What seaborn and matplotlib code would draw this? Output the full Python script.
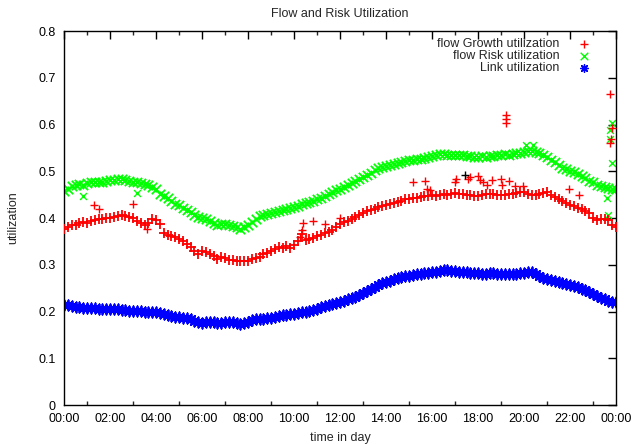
import numpy as np
import pandas as pd
import matplotlib
matplotlib.use("Agg")
import matplotlib.pyplot as plt
import seaborn as sns

# ---- data (hours of day, sampled every 10 minutes) ----
hours = [i / 6 for i in range(145)]

growth = [
    0.376, 0.380, 0.384, 0.385, 0.390, 0.392, 0.390, 0.393, 0.396, 0.398, 0.398, 0.401,
    0.400, 0.402, 0.405, 0.407, 0.404, 0.403, 0.401, 0.394, 0.389, 0.386, 0.390, 0.398,
    0.396, 0.388, 0.368, 0.364, 0.362, 0.359, 0.356, 0.350, 0.344, 0.338, 0.330, 0.324,
    0.330, 0.328, 0.322, 0.318, 0.312, 0.316, 0.314, 0.311, 0.310, 0.308, 0.307, 0.309,
    0.308, 0.312, 0.314, 0.316, 0.322, 0.326, 0.330, 0.333, 0.338, 0.336, 0.340, 0.336,
    0.343, 0.350, 0.365, 0.352, 0.355, 0.358, 0.361, 0.364, 0.367, 0.370, 0.375, 0.380,
    0.388, 0.391, 0.394, 0.398, 0.402, 0.406, 0.410, 0.414, 0.417, 0.420, 0.423, 0.426,
    0.428, 0.430, 0.433, 0.435, 0.437, 0.440, 0.441, 0.442, 0.443, 0.445, 0.446, 0.447,
    0.449, 0.448, 0.449, 0.451, 0.450, 0.452, 0.453, 0.452, 0.451, 0.450, 0.449, 0.448,
    0.448, 0.449, 0.451, 0.452, 0.451, 0.450, 0.449, 0.450, 0.451, 0.452, 0.454, 0.456,
    0.455, 0.452, 0.450, 0.449, 0.451, 0.454, 0.456, 0.450, 0.445, 0.440, 0.436, 0.432,
    0.428, 0.425, 0.422, 0.419, 0.415, 0.410, 0.400, 0.396, 0.398, 0.397, 0.395, 0.385,
    0.381,
]

risk = [
    0.458, 0.462, 0.468, 0.470, 0.472, 0.470, 0.474, 0.476, 0.477, 0.476, 0.478, 0.480,
    0.481, 0.482, 0.484, 0.483, 0.481, 0.480, 0.478, 0.476, 0.474, 0.473, 0.470, 0.466,
    0.462, 0.452, 0.446, 0.442, 0.436, 0.430, 0.427, 0.422, 0.417, 0.412, 0.407, 0.403,
    0.400, 0.397, 0.393, 0.390, 0.386, 0.388, 0.387, 0.385, 0.383, 0.380, 0.377, 0.380,
    0.386, 0.392, 0.398, 0.404, 0.407, 0.408, 0.410, 0.412, 0.415, 0.417, 0.419, 0.421,
    0.423, 0.426, 0.429, 0.432, 0.434, 0.437, 0.440, 0.443, 0.447, 0.451, 0.455, 0.459,
    0.463, 0.467, 0.471, 0.475, 0.479, 0.484, 0.488, 0.492, 0.497, 0.502, 0.507, 0.510,
    0.512, 0.514, 0.516, 0.518, 0.520, 0.522, 0.524, 0.525, 0.526, 0.527, 0.528, 0.530,
    0.532, 0.535, 0.537, 0.536, 0.535, 0.534, 0.534, 0.535, 0.534, 0.533, 0.532, 0.531,
    0.531, 0.532, 0.531, 0.533, 0.533, 0.534, 0.535, 0.536, 0.535, 0.537, 0.538, 0.539,
    0.541, 0.543, 0.544, 0.542, 0.538, 0.535, 0.531, 0.525, 0.519, 0.513, 0.508, 0.504,
    0.501, 0.498, 0.494, 0.490, 0.485, 0.480, 0.476, 0.471, 0.468, 0.466, 0.465, 0.463,
    0.462,
]

link = [
    0.214, 0.213, 0.211, 0.210, 0.209, 0.208, 0.208, 0.207, 0.207, 0.206, 0.206, 0.206,
    0.205, 0.206, 0.206, 0.204, 0.203, 0.202, 0.201, 0.202, 0.201, 0.200, 0.200, 0.199,
    0.198, 0.196, 0.194, 0.192, 0.191, 0.189, 0.188, 0.186, 0.186, 0.183, 0.179, 0.177,
    0.176, 0.177, 0.178, 0.177, 0.175, 0.176, 0.178, 0.177, 0.177, 0.175, 0.173, 0.175,
    0.178, 0.182, 0.184, 0.185, 0.185, 0.187, 0.187, 0.189, 0.191, 0.192, 0.193, 0.194,
    0.195, 0.197, 0.199, 0.200, 0.202, 0.204, 0.206, 0.209, 0.211, 0.213, 0.216, 0.218,
    0.221, 0.223, 0.226, 0.229, 0.232, 0.236, 0.240, 0.244, 0.248, 0.253, 0.257, 0.260,
    0.263, 0.266, 0.269, 0.271, 0.273, 0.275, 0.276, 0.278, 0.280, 0.281, 0.282, 0.283,
    0.284, 0.285, 0.287, 0.288, 0.288, 0.287, 0.286, 0.285, 0.285, 0.284, 0.283, 0.282,
    0.282, 0.281, 0.281, 0.282, 0.282, 0.281, 0.280, 0.280, 0.281, 0.280, 0.281, 0.282,
    0.283, 0.285, 0.284, 0.280, 0.276, 0.272, 0.270, 0.268, 0.266, 0.264, 0.262, 0.259,
    0.257, 0.254, 0.252, 0.249, 0.246, 0.242, 0.238, 0.233, 0.229, 0.226, 0.223, 0.221,
    0.221,
]

# isolated samples away from the bands
growth_extra_hours = [1.32, 1.54, 2.99, 3.60, 10.28, 10.35, 10.40, 10.81, 11.35, 12.00,
                      15.19, 15.70, 15.80, 15.90, 17.00, 17.04, 17.58, 17.65, 17.99, 18.09,
                      18.20, 18.38, 18.60, 18.99, 19.03, 19.22, 19.22, 19.22, 19.36, 19.60,
                      19.97, 21.97, 22.38, 23.74, 23.81, 23.78, 23.72]
growth_extra = [0.428, 0.419, 0.431, 0.376, 0.360, 0.374, 0.389, 0.394, 0.387, 0.399,
                0.478, 0.479, 0.463, 0.460, 0.478, 0.483, 0.483, 0.488, 0.490, 0.481,
                0.478, 0.470, 0.481, 0.483, 0.470, 0.620, 0.611, 0.603, 0.480, 0.468,
                0.468, 0.461, 0.449, 0.665, 0.592, 0.570, 0.560]
risk_extra_hours = [0.84, 3.16, 20.07, 20.40, 23.60, 23.67, 23.81, 23.74, 23.72, 23.81, 23.90]
risk_extra = [0.446, 0.453, 0.557, 0.556, 0.442, 0.406, 0.603, 0.588, 0.570, 0.518, 0.460]
other_hours = [17.43]
other_vals = [0.492]

xtick_hours = list(range(0, 25, 2))
xtick_labels = ["00:00", "02:00", "04:00", "06:00", "08:00", "10:00", "12:00",
                "14:00", "16:00", "18:00", "20:00", "22:00", "00:00"]

df_g = pd.DataFrame({"h": hours, "v": growth})
df_r = pd.DataFrame({"h": hours, "v": risk})
df_l = pd.DataFrame({"h": hours, "v": link})
df_gx = pd.DataFrame({"h": growth_extra_hours, "v": growth_extra})
df_rx = pd.DataFrame({"h": risk_extra_hours, "v": risk_extra})
df_o = pd.DataFrame({"h": other_hours, "v": other_vals})

sns.set_theme(style="white")
plt.rcParams["font.family"] = ["Liberation Sans", "DejaVu Sans"]
plt.rcParams["font.size"] = 9

fig = plt.figure(figsize=(6.32, 4.44), dpi=100)
ax = fig.add_axes([64 / 632, 39 / 444, 552 / 632, 374 / 444])

sns.scatterplot(data=df_g, x="h", y="v", marker="+", color="#ff0000", s=50,
                linewidth=1.3, label="flow Growth utilization", ax=ax, zorder=3)
sns.scatterplot(data=df_r, x="h", y="v", marker="x", color="#00ff00", s=45,
                linewidth=1.3, label="flow Risk utilization", ax=ax, zorder=2)
sns.scatterplot(data=df_l, x="h", y="v", marker=(8, 2, 0), color="#0000ff", s=55,
                linewidth=1.3, label="Link utilization", ax=ax, zorder=2)
sns.scatterplot(data=df_gx, x="h", y="v", marker="+", color="#ff0000", s=28,
                linewidth=1.0, ax=ax, zorder=3, legend=False)
sns.scatterplot(data=df_rx, x="h", y="v", marker="x", color="#00ff00", s=24,
                linewidth=1.0, ax=ax, zorder=2, legend=False)
sns.scatterplot(data=df_o, x="h", y="v", marker="+", color="#000000", s=28,
                linewidth=1.0, ax=ax, zorder=4, legend=False)

ax.set_xlim(0, 24)
ax.set_ylim(0, 0.8)
ax.set_xticks(xtick_hours)
ax.set_xticklabels(xtick_labels)
ax.set_xticks(range(1, 24, 2), minor=True)
ax.set_yticks([i / 10 for i in range(9)])
ax.set_yticklabels(["0", "0.1", "0.2", "0.3", "0.4", "0.5", "0.6", "0.7", "0.8"])
ax.tick_params(axis="both", which="major", direction="in", length=6, width=1,
               top=True, right=True, labelsize=9, colors="black")
ax.tick_params(axis="x", which="major", pad=6)
ax.tick_params(axis="y", which="major", pad=6)
ax.tick_params(axis="x", which="minor", direction="in", length=3, width=1,
               top=True, bottom=True)
for sp in ax.spines.values():
    sp.set_color("black")
    sp.set_linewidth(1.0)

ax.set_xlabel("time in day", fontsize=9, labelpad=5)
ax.set_ylabel("utilization", fontsize=9, labelpad=14)
ax.set_title("Flow and Risk Utilization", fontsize=9, pad=10)

leg = ax.legend(loc="upper right", bbox_to_anchor=(1 - 16 / 552, 1), frameon=False,
                markerfirst=False, fontsize=9, handletextpad=1.2, labelspacing=0.0,
                borderaxespad=0.15, handlelength=1.5)
for h in leg.legend_handles:
    h.set_sizes([30])
    h.set_linewidth(1.0)

fig.savefig("out.png", dpi=100, facecolor="white")
